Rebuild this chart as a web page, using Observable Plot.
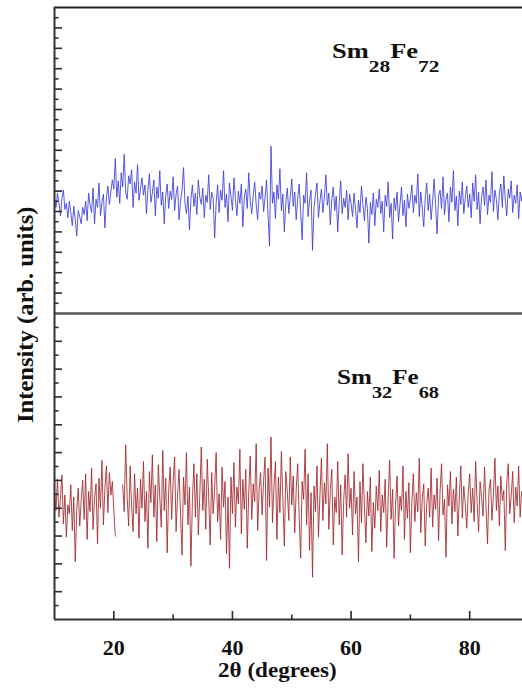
<!DOCTYPE html>
<html><head><meta charset="utf-8">
<script src="https://cdn.jsdelivr.net/npm/d3@7"></script>
<script src="https://cdn.jsdelivr.net/npm/@observablehq/plot@0.6"></script>
<style>
body{margin:0;background:#fff;}
#chart{position:relative;width:522px;height:697px;overflow:hidden;font-family:"Liberation Serif","Times New Roman",serif;font-weight:bold;color:#111;}
#chart svg{position:absolute;left:0;overflow:visible;background:transparent;}
.lbl{position:absolute;white-space:nowrap;transform-origin:0 0;line-height:1;}
.sub{font-size:17px;position:relative;top:14px;}
</style></head><body><div id="chart"></div>
<script>
// 2θ sampling grid of the scans
const thetaStart = 10, thetaStep = 0.25;
const xDomain = [10, 88.9];
const xMajorTicks = [20, 40, 60, 80];
const xMinorTicks = [30, 50, 70];

// Sm28Fe72 (top panel) intensities, arb. units
const topDomain = [0, 300];
const topMajorTicks = [20,40,60,80,100,120,140,160,180,200,220,240,260,280];
const topMinorTicks = [10,30,50,70,90,110,130,150,170,190,210,230,250,270,290];
const sm28fe72 = [
112,104,118,109,96,113,121,102,108,94,110,99,86,105,92,76,101,95,88,104,
97,110,91,118,106,99,123,88,112,104,128,96,109,117,84,113,125,107,119,131,
122,152,114,130,108,138,124,156,119,112,135,127,141,104,129,118,146,111,123,133,
116,126,98,121,137,109,118,131,96,124,113,140,106,119,88,115,127,103,120,112,
134,101,117,125,92,110,121,143,108,98,115,82,112,126,105,118,97,131,114,107,
123,94,116,109,136,102,119,113,74,108,126,99,121,111,140,104,117,90,128,115,
101,133,112,96,120,108,127,85,114,122,103,138,110,98,116,129,107,92,119,112,
125,100,114,131,96,66,164,108,119,93,126,112,142,101,117,80,109,123,98,114,
132,105,119,92,113,127,100,72,116,108,138,95,111,121,62,103,117,128,94,110,
122,99,114,136,106,118,87,112,124,101,115,80,109,130,98,113,104,121,92,117,
108,95,118,102,84,111,99,125,106,91,114,103,69,109,97,118,86,112,104,122,
98,110,80,116,105,129,94,108,73,113,101,119,90,107,124,96,111,85,117,103,
112,126,99,116,108,137,95,119,104,85,113,128,101,117,92,110,132,106,78,115,
121,103,134,97,112,118,90,124,109,140,101,115,86,120,107,129,98,113,125,104,
117,94,128,110,136,102,119,88,114,124,106,131,97,116,109,139,100,121,112,92,
118,127,104,135,111,96,122,113,130,99,116,108,126,93,119,110,124
];

// Sm32Fe68 (bottom panel) intensities, arb. units (null = no data)
const bottomDomain = [0, 275];
const bottomMajorTicks = [25,50,75,100,125,150,175,200,225,250];
const bottomMinorTicks = [12.5,37.5,62.5,87.5,112.5,137.5,162.5,187.5,212.5,237.5,262.5];
const sm32fe68 = [
115,98,126,92,108,130,86,112,74,103,95,121,80,110,52,99,118,84,107,125,
90,131,72,115,97,136,81,109,122,68,127,100,143,85,118,138,96,132,112,124,
98,75,null,null,null,null,121,97,157,110,84,138,102,79,131,95,118,73,126,100,
142,88,115,64,133,105,148,92,121,70,139,110,83,152,98,127,60,116,137,90,
124,146,79,112,135,95,58,128,103,150,85,119,48,107,140,92,131,76,113,155,
98,126,81,144,109,67,132,95,118,150,88,113,72,137,101,124,59,110,46,128,
95,141,83,119,104,153,77,126,99,135,64,115,147,90,122,106,158,80,117,132,
94,125,146,53,136,101,164,87,119,142,72,128,96,151,108,66,133,115,89,146,
103,129,78,117,140,92,55,124,108,153,85,131,62,114,38,120,97,138,74,111,
145,89,123,104,158,81,116,135,67,110,96,142,85,121,58,107,130,92,149,100,
118,76,133,95,110,52,124,87,140,101,69,115,93,128,61,105,82,120,98,134,
79,112,96,126,65,108,143,90,117,55,103,129,84,111,98,138,72,115,91,123,
60,106,131,88,114,97,145,78,109,122,66,104,118,92,136,83,112,99,127,71,
115,140,94,108,56,121,102,133,86,117,97,128,75,110,138,91,120,104,82,113,
131,96,118,88,142,105,79,124,110,93,137,101,68,116,126,89,112,145,98,120,
84,129,107,116,62,123,140,95,111,133,87,119,102,138,92,115,106
];

const toRows = arr => arr.map((v, i) => ({theta: thetaStart + i * thetaStep, v}));
const topRows = toRows(sm28fe72);
const bottomRows = toRows(sm32fe68);

const axisInk = "#2a2a2a";
const chart = document.getElementById("chart");

const topPlot = Plot.plot({
  width: 522, height: 313,
  marginTop: 7, marginBottom: 0, marginLeft: 54, marginRight: 0,
  x: {domain: xDomain, axis: null},
  y: {domain: topDomain},
  style: {overflow: "visible", background: "transparent"},
  marks: [
    Plot.line(topRows, {x: "theta", y: "v", stroke: "#3c3cd8", strokeWidth: 0.85, clip: true}),
    Plot.axisY(topMajorTicks, {anchor: "left", tickSize: -8, fill: "none", stroke: axisInk, strokeWidth: 1.6, label: null}),
    Plot.axisY(topMinorTicks, {anchor: "left", tickSize: -4.5, fill: "none", stroke: axisInk, strokeWidth: 1.6, label: null}),
    Plot.ruleY([topDomain[1]], {stroke: "#222", strokeWidth: 2}),
    Plot.ruleY([topDomain[0]], {stroke: "#555", strokeWidth: 2.5}),
    Plot.ruleX([xDomain[0]], {stroke: "#333", strokeWidth: 2})
  ]
});
topPlot.style.top = "0px";
chart.appendChild(topPlot);

const bottomPlot = Plot.plot({
  width: 522, height: 384,
  marginTop: 0, marginBottom: 78, marginLeft: 54, marginRight: 0,
  x: {domain: xDomain},
  y: {domain: bottomDomain},
  style: {overflow: "visible", background: "transparent"},
  marks: [
    Plot.line(bottomRows, {x: "theta", y: "v", stroke: "#a0262a", strokeWidth: 0.85, clip: true}),
    Plot.axisY(bottomMajorTicks, {anchor: "left", tickSize: -8, fill: "none", stroke: axisInk, strokeWidth: 1.6, label: null}),
    Plot.axisY(bottomMinorTicks, {anchor: "left", tickSize: -4.5, fill: "none", stroke: axisInk, strokeWidth: 1.6, label: null}),
    Plot.axisX(xMajorTicks, {anchor: "bottom", tickSize: -8, fill: "none", stroke: axisInk, strokeWidth: 1.6, label: null}),
    Plot.axisX(xMinorTicks, {anchor: "bottom", tickSize: -4.5, fill: "none", stroke: axisInk, strokeWidth: 1.6, label: null}),
    Plot.axisX(xMajorTicks, {anchor: "bottom", tickSize: 0, tickPadding: 20, stroke: "none", fill: "#111",
      fontSize: 22, fontWeight: "bold", fontFamily: "Liberation Serif", label: null}),
    Plot.ruleY([bottomDomain[0]], {stroke: "#333", strokeWidth: 2}),
    Plot.ruleX([xDomain[0]], {stroke: "#333", strokeWidth: 2})
  ]
});
bottomPlot.style.top = "313px";
chart.appendChild(bottomPlot);

// text labels (HTML, so subscripts render properly)
function addLabel(html, fs, left, baseline, targetWidth) {
  const el = document.createElement("div");
  el.className = "lbl";
  el.style.fontSize = fs + "px";
  el.innerHTML = html;
  chart.appendChild(el);
  const w = el.offsetWidth;
  el.style.left = left + "px";
  el.style.top = (baseline - 0.8375 * fs) + "px";
  el.style.transform = `scaleX(${targetWidth / w})`;
  return el;
}
addLabel('Sm<span class="sub">28</span>Fe<span class="sub">72</span>', 21, 331.7, 58.3, 107);
addLabel('Sm<span class="sub">32</span>Fe<span class="sub">68</span>', 21, 336.7, 384.3, 101.6);
addLabel('2θ (degrees)', 20, 277.5 - 119 / 2, 677, 119);

// rotated y title
(function () {
  const fs = 24, target = 216, centerY = 315, baselineX = 33;
  const el = document.createElement("div");
  el.className = "lbl";
  el.style.fontSize = fs + "px";
  el.textContent = "Intensity (arb. units)";
  chart.appendChild(el);
  const w = el.offsetWidth;
  el.style.left = "0px";
  el.style.top = "0px";
  const X = baselineX - 0.8375 * fs;
  el.style.transform = `translate(${X}px, ${centerY + target / 2}px) rotate(-90deg) scaleX(${target / w})`;
})();
</script>
</body></html>
